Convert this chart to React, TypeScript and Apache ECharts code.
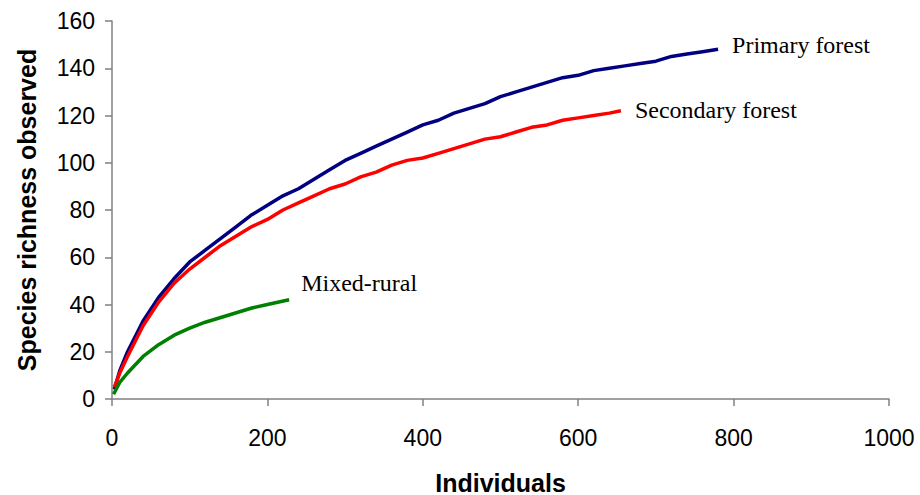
import React, { useEffect, useRef } from "react";
import * as echarts from "echarts";

const xTicks = [0, 200, 400, 600, 800, 1000];
const yTicks = [0, 20, 40, 60, 80, 100, 120, 140, 160];

const primaryX = [3, 10, 20, 40, 60, 80, 100, 120, 140, 160, 180, 200, 220, 240, 260, 280, 300, 320, 340, 360, 380, 400, 420, 440, 460, 480, 500, 520, 540, 560, 580, 600, 620, 640, 660, 680, 700, 720, 740, 760, 780];
const primaryY = [4, 12, 20, 33, 43, 51, 58, 63, 68, 73, 78, 82, 86, 89, 93, 97, 101, 104, 107, 110, 113, 116, 118, 121, 123, 125, 128, 130, 132, 134, 136, 137, 139, 140, 141, 142, 143, 145, 146, 147, 148];

const secondaryX = [3, 10, 20, 40, 60, 80, 100, 120, 140, 160, 180, 200, 220, 240, 260, 280, 300, 320, 340, 360, 380, 400, 420, 440, 460, 480, 500, 520, 540, 560, 580, 600, 620, 640, 655];
const secondaryY = [5, 11, 18, 31, 41, 49, 55, 60, 65, 69, 73, 76, 80, 83, 86, 89, 91, 94, 96, 99, 101, 102, 104, 106, 108, 110, 111, 113, 115, 116, 118, 119, 120, 121, 122];

const mixedX = [2, 10, 20, 40, 60, 80, 100, 120, 140, 160, 180, 200, 228];
const mixedY = [2, 7, 11, 18, 23, 27, 30, 32.5, 34.5, 36.5, 38.5, 40, 42];

const seriesNames = ["Primary forest", "Secondary forest", "Mixed-rural"];

const zip = (xs: number[], ys: number[]) => xs.map((x, i) => [x, ys[i]]);

export default function App() {
  const ref = useRef<HTMLDivElement>(null);
  useEffect(() => {
    if (!ref.current) return;
    const chart = echarts.init(ref.current, undefined, { renderer: "svg" });
    const labelFont = {
      fontFamily: "Liberation Serif",
      fontSize: 24,
      color: "#000",
    };
    const mk = (name: string, data: number[][], color: string, offset: number[]) => ({
      type: "line",
      name,
      data,
      showSymbol: false,
      smooth: false,
      lineStyle: { color, width: 3.5 },
      itemStyle: { color },
      endLabel: {
        show: true,
        formatter: name,
        offset,
        ...labelFont,
      },
    });
    const tickFont = { fontFamily: "Liberation Sans", fontSize: 23, color: "#000" };
    const nameFont = { fontFamily: "Liberation Sans", fontWeight: "bold", fontSize: 25, color: "#000" };
    chart.setOption({
      animation: false,
      backgroundColor: "#fff",
      grid: { left: 112, right: 31, top: 21, bottom: 96, outerBoundsMode: "none", containLabel: false },
      xAxis: {
        type: "value",
        min: xTicks[0],
        max: xTicks[xTicks.length - 1],
        interval: xTicks[1] - xTicks[0],
        name: "Individuals",
        nameLocation: "middle",
        nameGap: 71,
        nameTextStyle: nameFont,
        axisLine: { show: true, lineStyle: { color: "#808080", width: 1.5 } },
        axisTick: { show: true, length: 7, lineStyle: { color: "#808080", width: 1.5 } },
        axisLabel: { ...tickFont, margin: 27, formatter: (v: number) => String(v) },
        splitLine: { show: false },
      },
      yAxis: {
        type: "value",
        min: yTicks[0],
        max: yTicks[yTicks.length - 1],
        interval: yTicks[1] - yTicks[0],
        name: "Species richness observed",
        nameLocation: "middle",
        nameGap: 73,
        nameTextStyle: nameFont,
        axisLine: { show: true, lineStyle: { color: "#808080", width: 1.5 } },
        axisTick: { show: true, length: 7, lineStyle: { color: "#808080", width: 1.5 } },
        axisLabel: { ...tickFont, margin: 17 },
        splitLine: { show: false },
      },
      series: [
        mk(seriesNames[0], zip(primaryX, primaryY), "#000080", [6, -4]),
        mk(seriesNames[1], zip(secondaryX, secondaryY), "#ff0000", [6, -1]),
        mk(seriesNames[2], zip(mixedX, mixedY), "#008000", [4, -17]),
      ],
    });
    return () => chart.dispose();
  }, []);
  return (
    <div
      ref={ref}
      style={{ position: "absolute", left: 0, top: 0, width: 920, height: 495 }}
    />
  );
}
